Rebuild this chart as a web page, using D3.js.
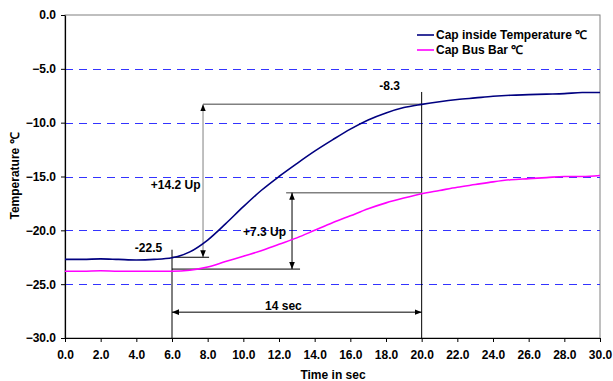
<!DOCTYPE html>
<html><head><meta charset="utf-8">
<script src="https://cdn.jsdelivr.net/npm/d3@7"></script>
<style>
body{margin:0;background:#fff;}
text{font-family:"Liberation Sans",Arial,sans-serif;font-weight:bold;}
</style></head>
<body><svg id="c" width="613" height="381"></svg>
<script>
const times = [0,1,2,3,4,5,6,7,8,9,10,11,12,13,14,15,16,17,18,19,20,21,22,23,24,25,26,27,28,29,30];
const capInside = [-22.7,-22.7,-22.65,-22.7,-22.75,-22.7,-22.55,-22.0,-20.9,-19.4,-17.8,-16.3,-15.0,-13.8,-12.65,-11.6,-10.6,-9.75,-9.1,-8.6,-8.3,-8.05,-7.85,-7.7,-7.55,-7.45,-7.4,-7.35,-7.3,-7.2,-7.2];
const capBusBar = [-23.8,-23.8,-23.75,-23.8,-23.8,-23.8,-23.8,-23.7,-23.4,-22.9,-22.4,-21.9,-21.3,-20.7,-20.0,-19.3,-18.65,-18.0,-17.45,-17.0,-16.6,-16.3,-16.0,-15.75,-15.5,-15.3,-15.2,-15.1,-15.0,-15.0,-14.9];
const seriesNames = ["Cap inside Temperature \u2103","Cap Bus Bar \u2103"];
const xTicks = [0,2,4,6,8,10,12,14,16,18,20,22,24,26,28,30];
const yTicks = [0,-5,-10,-15,-20,-25,-30];
const gridValues = [-5,-10,-15,-20,-25];
const startT = 6, endT = 20, startV = -22.5, endV = -8.3, busStart = -23.6, busEnd = -16.5;

const svg = d3.select("#c");
const L=65,R=600,T=15,B=338;
const x = d3.scaleLinear().domain([0,30]).range([L,R]);
const y = d3.scaleLinear().domain([-30,0]).range([B,T]);

// markers
const defs = svg.append("defs");
defs.append("marker").attr("id","ab").attr("viewBox","0 0 10 10").attr("refX",10).attr("refY",5)
  .attr("markerWidth",7).attr("markerHeight",7).attr("markerUnits","userSpaceOnUse").attr("orient","auto-start-reverse")
  .append("path").attr("d","M0,1L10,5L0,9Z").attr("fill","#000");

// plot border
svg.append("rect").attr("x",L).attr("y",T).attr("width",R-L).attr("height",B-T)
  .attr("fill","none").attr("stroke","#808080").attr("stroke-width",1);

// grid
svg.append("g").selectAll("line").data(gridValues).join("line")
  .attr("x1",L).attr("x2",R).attr("y1",d=>Math.round(y(d))+0.5).attr("y2",d=>Math.round(y(d))+0.5)
  .attr("stroke","#3333ff").attr("stroke-width",1).attr("stroke-dasharray","8,6");

// axes
const xa = svg.append("g").attr("transform",`translate(0,${B})`)
  .call(d3.axisBottom(x).tickValues(xTicks).tickFormat(d3.format(".1f")).tickSize(4).tickSizeOuter(0));
const ya = svg.append("g").attr("transform",`translate(${L},0)`)
  .call(d3.axisLeft(y).tickValues(yTicks).tickFormat(d3.format(".1f")).tickSize(4).tickSizeOuter(0));
[xa,ya].forEach(a=>{a.select(".domain").attr("stroke","#000").attr("stroke-width",1.2);
  a.selectAll("text").attr("font-size",12).attr("font-family","Liberation Sans, Arial").attr("font-weight","bold").attr("fill","#000");});
xa.selectAll("text").attr("dy","1.2em");
ya.selectAll("text").attr("x",-9);

// annotation lines
const ann = svg.append("g").attr("fill","none");
function seg(x1,y1,x2,y2,col,ms,me){const l=ann.append("line").attr("x1",x(x1)).attr("y1",y(y1)).attr("x2",x(x2)).attr("y2",y(y2)).attr("stroke",col).attr("stroke-width",1);
  if(ms)l.attr("marker-start","url(#ab)"); if(me)l.attr("marker-end","url(#ab)"); return l;}
seg(7.74,endV,endT,endV,"#808080",false,false).attr("stroke-width",1.5);
seg(7.74,startV,7.74,endV,"#808080",true,true);
seg(startT,startV,8.08,startV,"#000");
seg(startT,-21.8,startT,-30,"#000");
seg(endT,-7.15,endT,-30,"#000");
seg(12.4,busEnd,endT,busEnd,"#808080",false,false).attr("stroke-width",1.5);
seg(12.73,busStart,12.73,busEnd,"#000",true,true);
seg(startT,busStart,13.18,busStart,"#000");
seg(startT,-27.6,endT,-27.6,"#000",true,true);

// series
const line = d3.line().x((d,i)=>x(times[i])).y(d=>y(d)).curve(d3.curveMonotoneX);
svg.append("path").datum(capBusBar).attr("d",line).attr("fill","none").attr("stroke","#ff00ff").attr("stroke-width",1.6);
svg.append("path").datum(capInside).attr("d",line).attr("fill","none").attr("stroke","#000080").attr("stroke-width",1.6);

// annotation labels
const lab = svg.append("g").attr("font-size",12).attr("fill","#000");
lab.append("text").attr("x",x(5.45)).attr("y",y(-22.0)).attr("text-anchor","end").text("-22.5");
lab.append("text").attr("x",x(18.2)).attr("y",y(-7.0)).attr("text-anchor","middle").text("-8.3");
lab.append("text").attr("x",x(7.6)).attr("y",y(-16.15)).attr("text-anchor","end").text("+14.2 Up");
lab.append("text").attr("x",x(12.4)).attr("y",y(-20.5)).attr("text-anchor","end").text("+7.3 Up");
lab.append("text").attr("x",x(12.25)).attr("y",y(-27.4)).attr("text-anchor","middle").text("14 sec");

// axis titles
svg.append("text").attr("x",333).attr("y",379).attr("text-anchor","middle").attr("font-size",12).text("Time in sec");
svg.append("text").attr("transform","translate(19,176) rotate(-90)").attr("text-anchor","middle").attr("font-size",12).text("Temperature \u2103");

// legend
const lg = svg.append("g");
const lc = ["#000080","#ff00ff"];
seriesNames.forEach((n,i)=>{
  lg.append("line").attr("x1",417).attr("x2",434).attr("y1",35+i*15).attr("y2",35+i*15).attr("stroke",lc[i]).attr("stroke-width",1.6);
  lg.append("text").attr("x",436).attr("y",39+i*15).attr("font-size",12).text(n);
});
</script></body></html>
